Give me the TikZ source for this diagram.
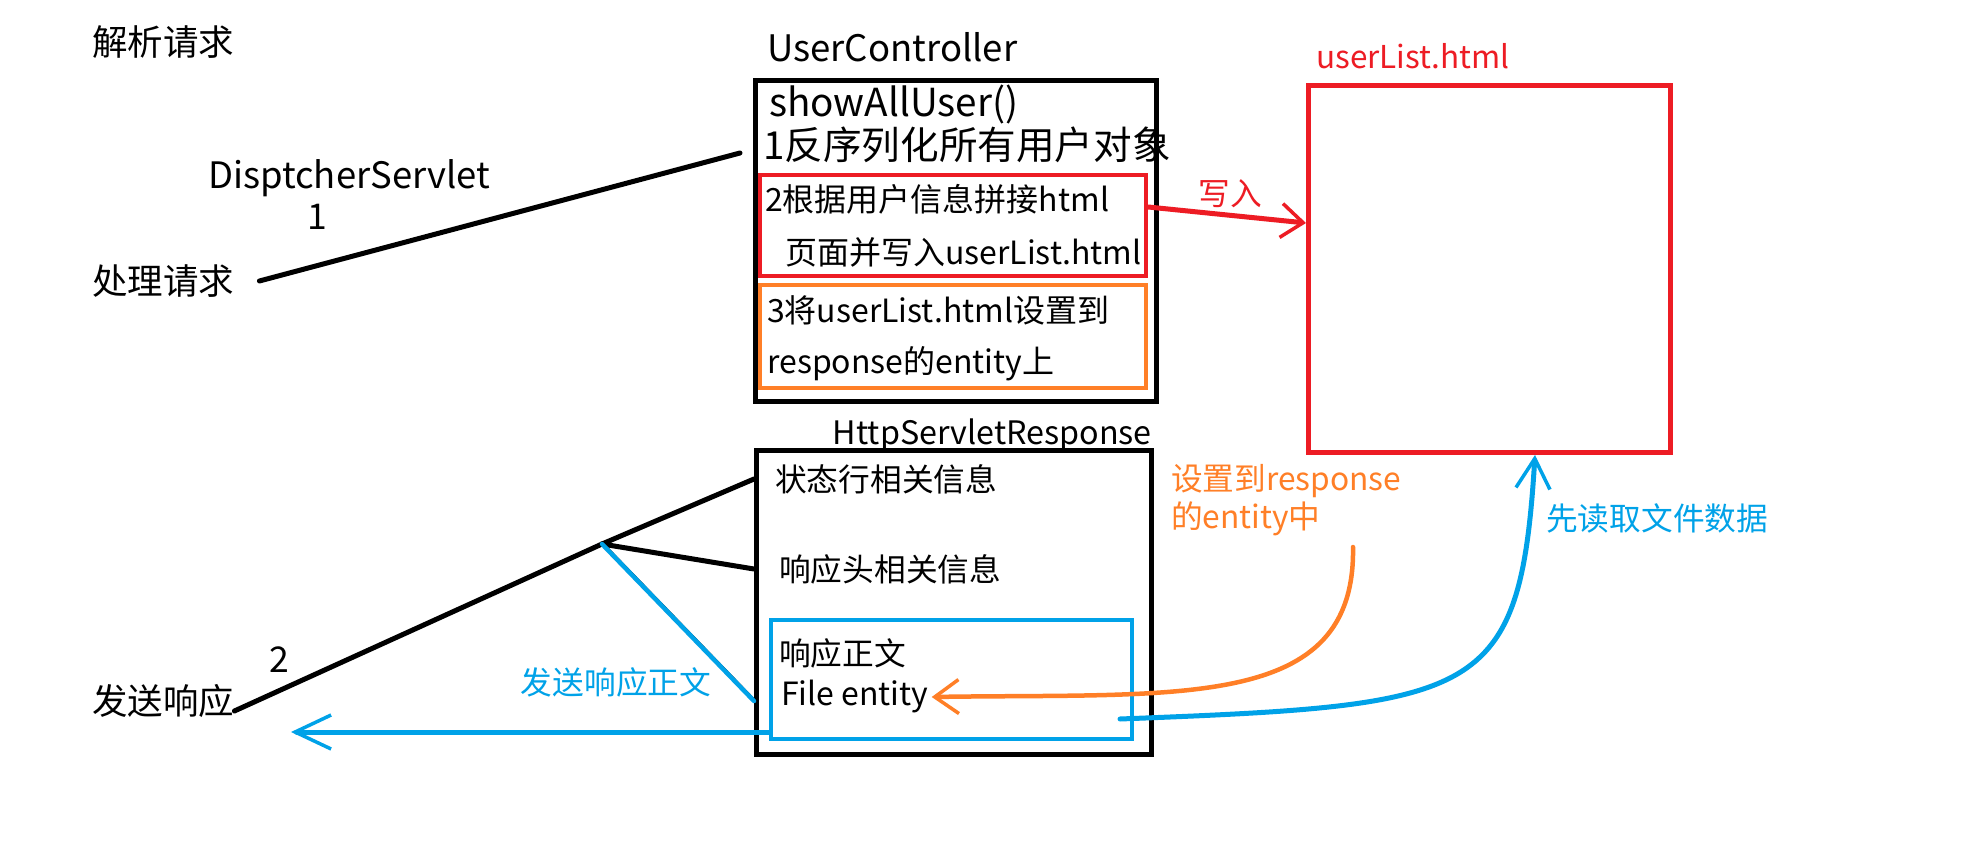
\documentclass[tikz,border=0pt]{standalone}
\usepackage{fontspec}
\setmainfont{Noto Sans CJK SC}
\usetikzlibrary{arrows.meta}
\definecolor{pred}{HTML}{ED1C24}
\definecolor{porange}{HTML}{FF7F27}
\definecolor{pblue}{HTML}{00A2E8}
\begin{document}
\begin{tikzpicture}[x=1pt,y=-1pt,
    txt/.style={inner sep=0pt,anchor=west,font=\fontsize{35.5}{40}\selectfont},
    bigtxt/.style={inner sep=0pt,anchor=west,font=\fontsize{38.6}{44}\selectfont},
    smalltxt/.style={inner sep=0pt,anchor=west,font=\fontsize{31.7}{38}\selectfont},
    frame/.style={draw=#1,line width=5pt,inner sep=0pt},
    ink/.style={line width=5pt,line cap=round},
    barb/.style={-{Straight Barb[length=#1,width=34pt,line width=3.5pt]}}]
    \fill[white] (0,0) rectangle (1987,843);
    \useasboundingbox (0,0) rectangle (1987,843);

    \node[frame=black,minimum width=401pt,minimum height=321pt] (ctrl) at (956,241) {};
    \node[frame=pred,line width=4.5pt,minimum width=386pt,minimum height=101pt] (join) at (953,225.5) {};
    \node[frame=porange,line width=4.5pt,minimum width=386pt,minimum height=103pt] (setent) at (953,336.5) {};
    \node[frame=pred,minimum width=362pt,minimum height=367pt] (html) at (1489.5,269) {};
    \node[frame=black,minimum width=395pt,minimum height=304pt] (resp) at (954,602.5) {};
    \node[frame=pblue,line width=4.5pt,minimum width=361pt,minimum height=119pt] (body) at (951.5,679.5) {};

    \node[txt] (parse) at (92,42) {解析请求};
    \node[txt] (handle) at (92,281) {处理请求};
    \node[txt] (send) at (92,701) {发送响应};
    \node[txt,font=\fontsize{36.4}{44}\selectfont] (dispatch) at (208,178.5) {DisptcherServlet};
    \node[txt,anchor=center] (one) at (317,217) {1};
    \node[txt,anchor=center] (two) at (279,660) {2};

    \node[txt,font=\fontsize{36.5}{44}\selectfont] (ctrltitle) at (767,47.5) {UserController};
    \node[bigtxt] (showall) at (769,104) {showAllUser()};
    \node[bigtxt] (step1) at (763,145) {1反序列化所有用户对象};
    \node[smalltxt,font=\fontsize{32}{38}\selectfont] (step2a) at (765,199) {2根据用户信息拼接html};
    \node[smalltxt,font=\fontsize{32}{38}\selectfont] (step2b) at (785,252) {页面并写入userList.html};
    \node[smalltxt,font=\fontsize{32}{38}\selectfont] (step3a) at (767,310) {3将userList.html设置到};
    \node[smalltxt,font=\fontsize{32}{38}\selectfont] (step3b) at (767,364) {response的entity上};

    \node[txt,text=pred,font=\fontsize{31.5}{38}\selectfont] (htmltitle) at (1316,56) {userList.html};
    \node[smalltxt,text=pred,anchor=center] (writein) at (1230,194) {写入};

    \node[txt,anchor=east,font=\fontsize{32.3}{38}\selectfont] (resptitle) at (1152,435) {HttpServletResponse};
    \node[smalltxt] (status) at (775,479) {状态行相关信息};
    \node[smalltxt] (header) at (779,569) {响应头相关信息};
    \node[smalltxt] (bodytitle) at (779,653) {响应正文};
    \node[txt,font=\fontsize{32}{38}\selectfont] (entity) at (781,697) {File entity};

    \node[smalltxt,text=pblue,anchor=center] (sendbody) at (616,682) {发送响应正文};
    \node[smalltxt,text=porange,align=left,anchor=north west] (setlabel) at (1171,464) {设置到response\\的entity中};
    \node[smalltxt,text=pblue] (readfile) at (1546,518) {先读取文件数据};

    \coordinate (fork) at (602,544);
    \coordinate (ctrlin) at (740,153);
    \coordinate (sendtip) at (291,732);
    \coordinate (setfrom) at (1353,547);
    \coordinate (readfrom) at (1120,719);

    \draw[ink] ([xshift=25pt]handle.east) -- (ctrlin);
    \draw[ink,pred,barb=22pt] ([yshift=18.5pt]join.east) -- ([yshift=46pt]html.west);
    \draw[ink] (fork) -- (resp.west |- status.west);
    \draw[ink] (fork) -- (resp.west |- header.west);
    \draw[ink] (fork) -- ([yshift=-10pt]send.east);
    \draw[line width=1.5pt] ([xshift=2pt]fork) -- ([xshift=2pt,yshift=-4pt]resp.west |- entity.west);
    \draw[ink,pblue,line width=4.5pt] (fork) -- ([yshift=-4pt]resp.west |- entity.west);
    \draw[ink,pblue,barb=36pt] ([yshift=-52.5pt]body.west) -- (sendtip);
    \draw[ink,porange,line width=4.5pt,barb=24pt] (setfrom) .. controls (1356,712) and (1180,693) .. ([xshift=3pt]entity.east);
    \draw[ink,pblue,barb=30pt] (readfrom) .. controls (1480,705) and (1520,700) .. ([xshift=45.5pt]html.south);
\end{tikzpicture}
\end{document}
